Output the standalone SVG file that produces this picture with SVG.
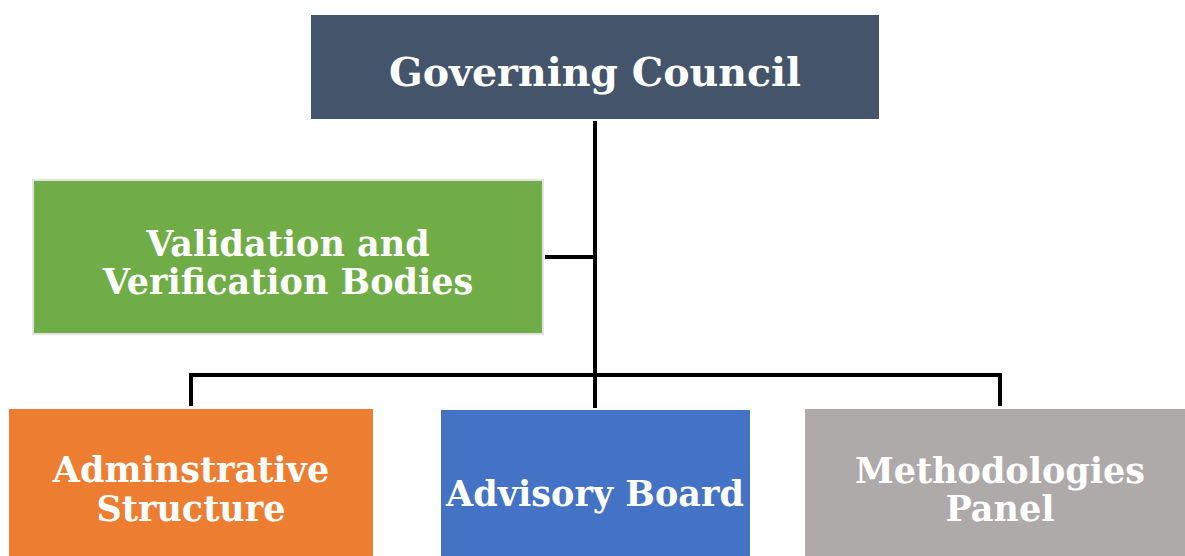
<svg xmlns="http://www.w3.org/2000/svg" width="1185" height="556" viewBox="0 0 1185 556">
<style>
.t{font-family:"DejaVu Serif","Liberation Serif",serif;font-weight:bold;fill:#fff;text-anchor:middle;font-size:35px}
.c{stroke:#000;stroke-width:4;fill:none}
</style>
<rect width="1185" height="556" fill="#fff"/>
<g id="connectors">
<path class="c" d="M595 121V408"/>
<path class="c" d="M545 257H595"/>
<path class="c" d="M191 406V375H1000V406"/>
</g>
<g id="governing-council">
<rect x="311" y="15" width="568" height="104" fill="#44546A"/>
<text class="t" x="595" y="86" style="font-size:39.5px">Governing Council</text>
</g>
<g id="validation">
<rect x="33" y="180" width="510" height="154" fill="#70AD47" stroke="#E2E2E2" stroke-width="2"/>
<text class="t" x="288" y="256">Validation and</text>
<text class="t" x="288" y="294">Verification Bodies</text>
</g>
<g id="administrative">
<rect x="9" y="409" width="364" height="150" fill="#ED7D31"/>
<text class="t" x="191" y="482">Adminstrative</text>
<text class="t" x="191" y="521">Structure</text>
</g>
<g id="advisory">
<rect x="441" y="410" width="309" height="150" fill="#4472C4"/>
<text class="t" x="595" y="506">Advisory Board</text>
</g>
<g id="methodologies">
<rect x="805" y="409" width="385" height="150" fill="#AEAAAA"/>
<text class="t" x="1000" y="483">Methodologies</text>
<text class="t" x="1000" y="521">Panel</text>
</g>
</svg>
